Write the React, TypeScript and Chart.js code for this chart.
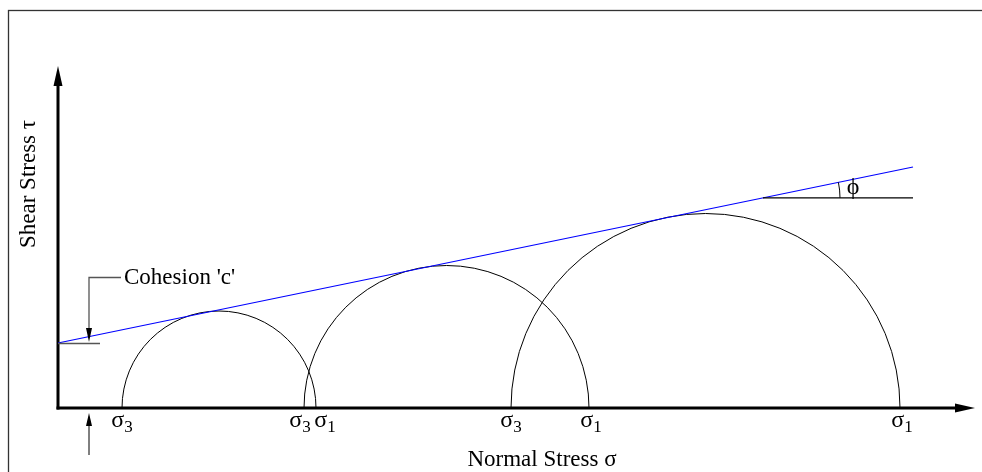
import React, { useEffect, useRef } from "react";
import { Chart, registerables } from "chart.js";

Chart.register(...registerables);

// Mohr circles: principal stresses (arbitrary units)
const sigma3 = [6.4, 24.6, 45.3];
const sigma1 = [25.8, 53.1, 84.2];
// Mohr-Coulomb failure envelope
const cohesion = 6.5;
const envelopeSigma = [0, 85.5];
const envelopeTau = [6.5, 24.1];
// angle marker start on envelope
const phiMarkerSigma = 70.5;
const xTitle = "Normal Stress σ";
const yTitle = "Shear Stress τ";
const cohesionLabel = "Cohesion 'c'";
const phiLabel = "ϕ";

const FONT = '"Liberation Serif", "Times New Roman", serif';

function drawArrowHead(ctx: CanvasRenderingContext2D, tipX: number, tipY: number, dir: "up" | "down" | "right", len: number, half: number) {
  ctx.beginPath();
  if (dir === "up") {
    ctx.moveTo(tipX, tipY);
    ctx.lineTo(tipX - half, tipY + len);
    ctx.lineTo(tipX + half, tipY + len);
  } else if (dir === "down") {
    ctx.moveTo(tipX, tipY);
    ctx.lineTo(tipX - half, tipY - len);
    ctx.lineTo(tipX + half, tipY - len);
  } else {
    ctx.moveTo(tipX, tipY);
    ctx.lineTo(tipX - len, tipY - half);
    ctx.lineTo(tipX - len, tipY + half);
  }
  ctx.closePath();
  ctx.fill();
}

function drawSigma(ctx: CanvasRenderingContext2D, cx: number, baseline: number, sub: string) {
  ctx.font = `24px ${FONT}`;
  const w1 = ctx.measureText("σ").width;
  ctx.font = `17px ${FONT}`;
  const w2 = ctx.measureText(sub).width;
  const left = cx - (w1 + w2) / 2;
  ctx.textAlign = "left";
  ctx.textBaseline = "alphabetic";
  ctx.font = `24px ${FONT}`;
  ctx.fillText("σ", left, baseline);
  ctx.font = `17px ${FONT}`;
  ctx.fillText(sub, left + w1, baseline + 5);
}

const mohrPlugin = {
  id: "mohr",
  beforeDatasetsDraw(chart: any) {
    const { ctx } = chart;
    const xs = chart.scales.x;
    const ys = chart.scales.y;
    const x0 = xs.getPixelForValue(0);
    const y0 = ys.getPixelForValue(0);
    ctx.save();
    // frame
    ctx.strokeStyle = "#333";
    ctx.lineWidth = 1.3;
    ctx.strokeRect(8.5, 10.5, 1000, 500);

    // circles
    ctx.strokeStyle = "#000";
    ctx.lineWidth = 1;
    for (let i = 0; i < sigma3.length; i++) {
      const cx = xs.getPixelForValue((sigma3[i] + sigma1[i]) / 2);
      const rx = Math.abs(xs.getPixelForValue(sigma1[i]) - cx);
      const ry = Math.abs(ys.getPixelForValue((sigma1[i] - sigma3[i]) / 2) - y0);
      ctx.beginPath();
      ctx.ellipse(cx, y0, rx, ry, 0, Math.PI, 2 * Math.PI);
      ctx.stroke();
    }

    // axes
    ctx.fillStyle = "#000";
    ctx.strokeStyle = "#000";
    ctx.lineWidth = 3;
    ctx.beginPath();
    ctx.moveTo(x0, y0 + 1.5);
    ctx.lineTo(x0, 82);
    ctx.stroke();
    drawArrowHead(ctx, x0, 66, "up", 20, 4.5);
    ctx.beginPath();
    ctx.moveTo(x0 - 1.5, y0);
    ctx.lineTo(960, y0);
    ctx.stroke();
    drawArrowHead(ctx, 975, y0, "right", 20, 4.5);
    ctx.restore();
  },
  afterDatasetsDraw(chart: any) {
    const { ctx } = chart;
    const xs = chart.scales.x;
    const ys = chart.scales.y;
    const x0 = xs.getPixelForValue(0);
    const y0 = ys.getPixelForValue(0);
    ctx.save();
    ctx.fillStyle = "#000";

    // sigma labels
    const base = y0 + 19;
    for (let i = 0; i < sigma3.length; i++) {
      const p3 = xs.getPixelForValue(sigma3[i]);
      const p1 = xs.getPixelForValue(sigma1[i]);
      let n3 = 0;
      let n1 = 0;
      // separate labels for overlapping points
      for (let j = 0; j < sigma1.length; j++) {
        const q = xs.getPixelForValue(sigma1[j]);
        if (Math.abs(q - p3) < 20) {
          n3 = -4;
        }
      }
      for (let j = 0; j < sigma3.length; j++) {
        const q = xs.getPixelForValue(sigma3[j]);
        if (Math.abs(q - p1) < 20) {
          n1 = 7;
        }
      }
      drawSigma(ctx, p3 + n3, base, "3");
      drawSigma(ctx, p1 + n1 + 2, base, "1");
    }

    // cohesion marker
    const yc = ys.getPixelForValue(cohesion);
    const xm = xs.getPixelForValue(3.1);
    ctx.strokeStyle = "#555";
    ctx.lineWidth = 1.3;
    ctx.beginPath();
    ctx.moveTo(x0, yc + 0.5);
    ctx.lineTo(xs.getPixelForValue(4.2), yc + 0.5);
    ctx.stroke();
    ctx.beginPath();
    ctx.moveTo(xm, yc - 12);
    ctx.lineTo(xm, 277.5);
    ctx.lineTo(121, 277.5);
    ctx.stroke();
    ctx.fillStyle = "#000";
    drawArrowHead(ctx, xm, yc - 1, "down", 14, 3);
    ctx.font = `23px ${FONT}`;
    ctx.textAlign = "left";
    ctx.textBaseline = "middle";
    ctx.fillText(cohesionLabel, 124, 278);

    // bottom arrow
    ctx.strokeStyle = "#000";
    ctx.lineWidth = 1;
    ctx.beginPath();
    ctx.moveTo(xm, 455);
    ctx.lineTo(xm, 422);
    ctx.stroke();
    drawArrowHead(ctx, xm, 413, "up", 13, 3);

    // phi marker
    const ps = xs.getPixelForValue(phiMarkerSigma);
    const pe = xs.getPixelForValue(envelopeSigma[1]);
    const tauAt = envelopeTau[0] + (envelopeTau[1] - envelopeTau[0]) * (phiMarkerSigma - envelopeSigma[0]) / (envelopeSigma[1] - envelopeSigma[0]);
    const py = ys.getPixelForValue(tauAt);
    ctx.strokeStyle = "#000";
    ctx.lineWidth = 1.3;
    ctx.beginPath();
    ctx.moveTo(ps, py);
    ctx.lineTo(pe, py);
    ctx.stroke();
    const ang = Math.atan2(ys.getPixelForValue(envelopeTau[0]) - ys.getPixelForValue(envelopeTau[1]), pe - x0);
    ctx.lineWidth = 1;
    ctx.beginPath();
    ctx.arc(ps, py, 77, -ang, 0);
    ctx.stroke();
    ctx.font = `24px ${FONT}`;
    ctx.textAlign = "center";
    ctx.textBaseline = "alphabetic";
    ctx.fillText(phiLabel, 853, 194);

    // axis titles
    ctx.font = `23px ${FONT}`;
    ctx.textAlign = "center";
    ctx.fillText(xTitle, 542, 466);
    ctx.save();
    ctx.translate(35, 248);
    ctx.rotate(-Math.PI / 2);
    ctx.textAlign = "left";
    ctx.fillText(yTitle, 0, 0);
    ctx.restore();

    ctx.restore();
  },
};

export default function App() {
  const ref = useRef<HTMLCanvasElement | null>(null);
  useEffect(() => {
    if (!ref.current) return;
    const chart = new Chart(ref.current, {
      type: "scatter",
      data: {
        datasets: [
          {
            label: "Failure envelope",
            data: envelopeSigma.map((s, i) => ({ x: s, y: envelopeTau[i] })),
            showLine: true,
            borderColor: "#0000ff",
            borderWidth: 1.2,
            pointRadius: 0,
            fill: false,
          },
        ],
      },
      options: {
        responsive: false,
        animation: false,
        devicePixelRatio: 1,
        layout: { padding: 0 },
        scales: {
          x: { type: "linear", display: false, min: -5.8, max: 92.4 },
          y: { type: "linear", display: false, min: -6.4, max: 40.8 },
        },
        plugins: { legend: { display: false }, tooltip: { enabled: false } },
      },
      plugins: [mohrPlugin],
    });
    return () => chart.destroy();
  }, []);
  return (
    <canvas
      ref={ref}
      width={982}
      height={472}
      style={{ position: "absolute", left: 0, top: 0, width: 982, height: 472, background: "#fff" }}
    />
  );
}
